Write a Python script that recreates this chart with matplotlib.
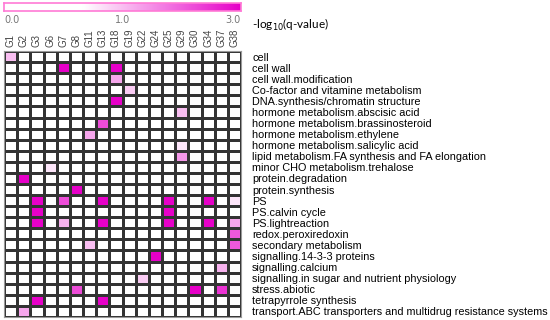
"""
Heatmap of enriched MapMan categories per gene cluster
"""
import matplotlib
matplotlib.use("Agg")
import matplotlib.pyplot as plt
import numpy as np
from matplotlib.colors import LinearSegmentedColormap, TwoSlopeNorm

clusters = ['G1', 'G2', 'G3', 'G6', 'G7', 'G8', 'G11', 'G13', 'G18', 'G19',
            'G22', 'G24', 'G25', 'G29', 'G30', 'G34', 'G37', 'G38']
categories = ['cell', 'cell wall', 'cell wall.modification',
              'Co-factor and vitamine metabolism',
              'DNA.synthesis/chromatin structure',
              'hormone metabolism.abscisic acid',
              'hormone metabolism.brassinosteroid',
              'hormone metabolism.ethylene',
              'hormone metabolism.salicylic acid',
              'lipid metabolism.FA synthesis and FA elongation',
              'minor CHO metabolism.trehalose', 'protein.degradation',
              'protein.synthesis', 'PS', 'PS.calvin cycle', 'PS.lightreaction',
              'redox.peroxiredoxin', 'secondary metabolism',
              'signalling.14-3-3 proteins', 'signalling.calcium',
              'signalling.in sugar and nutrient physiology', 'stress.abiotic',
              'tetrapyrrole synthesis',
              'transport.ABC transporters and multidrug resistance systems']

# significant cells: row (category), column (cluster), -log10(q)
hit_rows = [0, 1, 1, 2, 3, 4, 5, 6, 7, 8, 9, 10, 11, 12,
            13, 13, 13, 13, 13, 13, 14, 14,
            15, 15, 15, 15, 15, 15, 16, 17, 17, 18, 19, 20,
            21, 21, 21, 22, 22, 23]
hit_cols = [0, 4, 8, 8, 9, 8, 13, 7, 6, 13, 13, 3, 1, 5,
            2, 4, 7, 12, 15, 17, 2, 12,
            2, 4, 7, 12, 15, 17, 17, 6, 17, 11, 16, 10,
            5, 14, 16, 2, 7, 1]
hit_values = [1.5, 3.0, 3.0, 1.7, 1.4, 3.0, 1.5, 2.4, 1.7, 1.2, 1.8, 1.2, 3.0, 3.0,
              3.0, 2.4, 3.0, 3.0, 3.0, 1.2, 3.0, 3.0,
              3.0, 1.6, 3.0, 3.0, 3.0, 1.7, 2.3, 1.5, 2.3, 3.0, 1.6, 1.4,
              2.4, 3.0, 2.6, 3.0, 3.0, 1.7]

data = np.zeros((len(categories), len(clusters)))
data[hit_rows, hit_cols] = hit_values

magenta = '#E600C8'
cmap = LinearSegmentedColormap.from_list(
    'pinkish', [(0, 'white'), (0.5, 'white'), (1, magenta)])
norm = TwoSlopeNorm(vmin=0, vcenter=1, vmax=3)

fig = plt.figure(figsize=(5.5, 3.2), dpi=100)
ax = fig.add_axes([4 / 550, 3 / 320, 237 / 550, 266 / 320])
ax.pcolormesh(data, cmap=cmap, norm=norm, edgecolors='#333333',
              linewidth=0.8)
ax.set_xlim(0, len(clusters))
ax.set_ylim(len(categories), 0)
ax.set_xticks(np.arange(len(clusters)) + 0.5)
ax.set_xticklabels(clusters, rotation=90, fontsize=7, color='#444444',
                   family='Liberation Sans')
ax.xaxis.tick_top()
ax.tick_params(axis='x', length=0, pad=3)
ax.set_yticks(np.arange(len(categories)) + 0.5)
ax.set_yticklabels(categories, fontsize=7.8, family='Liberation Sans')
ax.yaxis.tick_right()
ax.tick_params(axis='y', length=0, pad=8)
for s in ax.spines.values():
    s.set_color('#999999')

# colour bar
cax = fig.add_axes([4 / 550, 309 / 320, 237 / 550, 8 / 320])
grad = np.linspace(0, 3, 400).reshape(1, -1)
cax.imshow(grad, aspect='auto', cmap=cmap, norm=norm,
           extent=[0, 1, 0, 1])
cax.set_yticks([])
cax.set_xticks([0, 0.5, 1])
cax.set_xticklabels(['0.0', '1.0', '3.0'], fontsize=7, color='#777777')
for lab, ha in zip(cax.get_xticklabels(), ['left', 'center', 'right']):
    lab.set_horizontalalignment(ha)
cax.tick_params(axis='x', length=0, pad=3)
for s in cax.spines.values():
    s.set_color('#FF7AD6')
    s.set_linewidth(1.2)

fig.text(252 / 550, 1 - 25 / 320, '-log$_{10}$(q-value)', fontsize=8.5,
         family='Lato', va='center', ha='left')

fig.savefig('out.png', dpi=100)
